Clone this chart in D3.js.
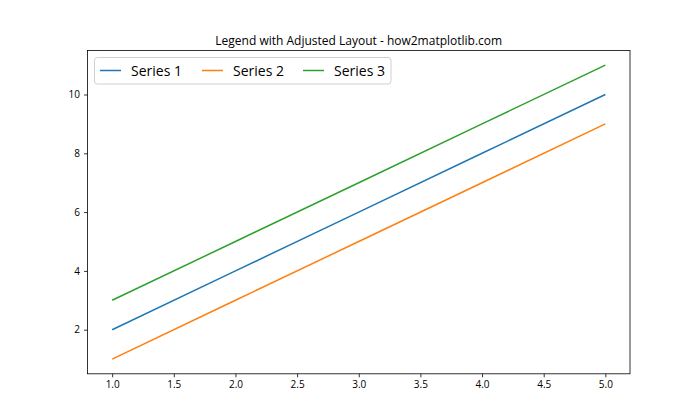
<!DOCTYPE html>
<html><head><meta charset="utf-8">
<script src="https://cdn.jsdelivr.net/npm/d3@7"></script>
<style>body{margin:0;background:#fff}svg{display:block}text{font-family:"Open Sans","Noto Sans",sans-serif}</style>
</head><body>
<script>
const xValues = [1, 2, 3, 4, 5];
const series1 = [2, 4, 6, 8, 10];
const series2 = [1, 3, 5, 7, 9];
const series3 = [3, 5, 7, 9, 11];
const seriesNames = ["Series 1", "Series 2", "Series 3"];
const xTicks = [1.0, 1.5, 2.0, 2.5, 3.0, 3.5, 4.0, 4.5, 5.0];
const yTicks = [2, 4, 6, 8, 10];
const colors = ["#1f77b4", "#ff7f0e", "#2ca02c"];
const title = "Legend with Adjusted Layout - how2matplotlib.com";

const W = 700, H = 420;
const m = {l: 87.5, r: 630, t: 50.4, b: 373.8};
const svg = d3.select("body").append("svg").attr("width", W).attr("height", H);
const x = d3.scaleLinear().domain([0.8, 5.2]).range([m.l, m.r]);
const y = d3.scaleLinear().domain([0.5, 11.5]).range([m.b, m.t]);

const xAxis = svg.append("g").attr("transform", `translate(0,${m.b})`)
  .call(d3.axisBottom(x).tickValues(xTicks).tickFormat(d3.format(".1f")).tickSize(3.5).tickPadding(4));
const yAxis = svg.append("g").attr("transform", `translate(${m.l},0)`)
  .call(d3.axisLeft(y).tickValues(yTicks).tickFormat(d3.format("d")).tickSize(3.5).tickPadding(4));
[xAxis, yAxis].forEach(a => {
  a.select(".domain").remove();
  a.selectAll("text").style("font-size", "10px").attr("fill", "#000");
  a.selectAll("line").attr("stroke", "#000").attr("stroke-width", 0.8);
});

const allSeries = [series1, series2, series3];
const line = d3.line().x((d, i) => x(xValues[i])).y(d => y(d));
allSeries.forEach((s, k) => {
  svg.append("path").datum(s).attr("d", line).attr("fill", "none")
    .attr("stroke", colors[k]).attr("stroke-width", 1.5);
});

svg.append("rect").attr("x", m.l).attr("y", m.t).attr("width", m.r - m.l).attr("height", m.b - m.t)
  .attr("fill", "none").attr("stroke", "#000").attr("stroke-width", 0.8);

svg.append("text").attr("x", (m.l + m.r) / 2).attr("y", 45).attr("text-anchor", "middle")
  .style("font-size", "12px").text(title);

const lg = svg.append("g");
lg.append("rect").attr("x", 94.5).attr("y", 57.5).attr("width", 296.5).attr("height", 26.5)
  .attr("rx", 3).attr("fill", "#fff").attr("fill-opacity", 0.8).attr("stroke", "#d0d0d0").attr("stroke-width", 1);
const handleX = [100, 202, 303];
seriesNames.forEach((n, k) => {
  lg.append("line").attr("x1", handleX[k]).attr("x2", handleX[k] + 21).attr("y1", 70.5).attr("y2", 70.5)
    .attr("stroke", colors[k]).attr("stroke-width", 1.5);
  lg.append("text").attr("x", handleX[k] + 31).attr("y", 75.5).style("font-size", "14px").text(n);
});
</script>
</body></html>
